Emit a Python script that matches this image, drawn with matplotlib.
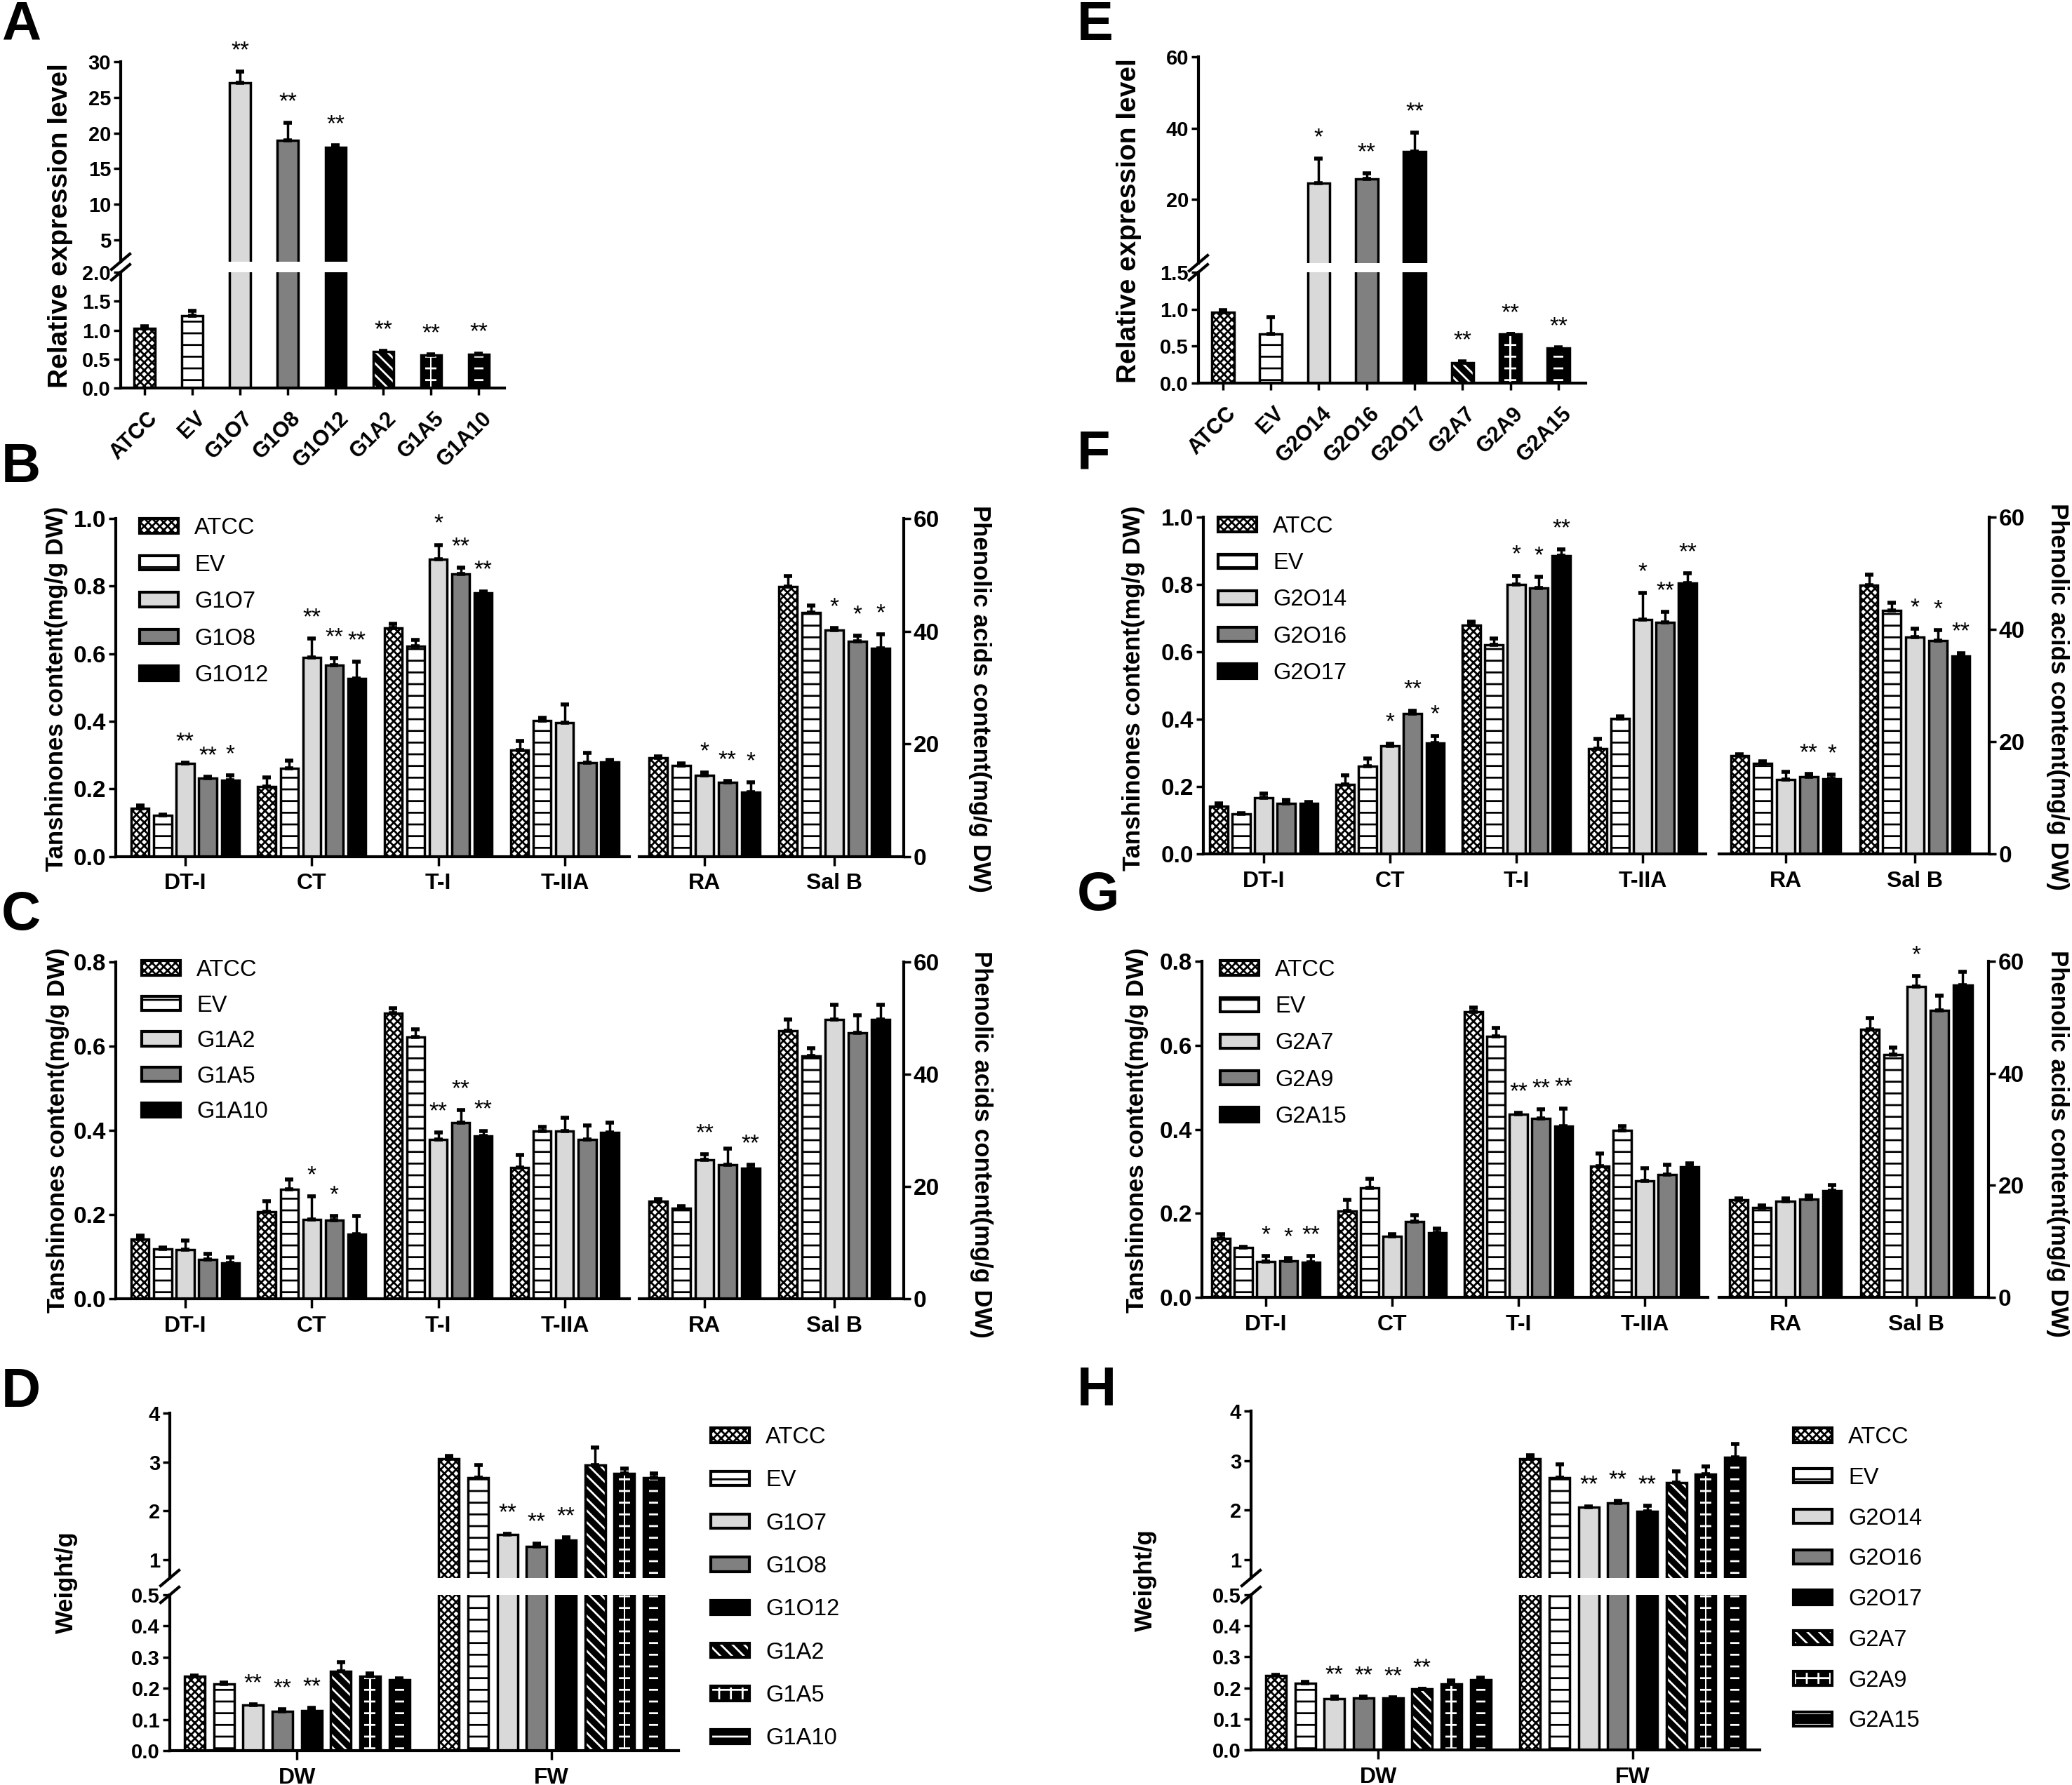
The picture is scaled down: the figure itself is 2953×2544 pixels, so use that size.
import numpy as np
import matplotlib
matplotlib.use('Agg')
import matplotlib.pyplot as plt
from matplotlib.patches import Patch
from matplotlib.lines import Line2D
from matplotlib.ticker import FormatStrFormatter
from matplotlib.transforms import ScaledTranslation

plt.rcParams['font.family'] = ['Liberation Sans', 'DejaVu Sans']
plt.rcParams['font.weight'] = 'bold'
plt.rcParams['hatch.linewidth'] = 2.0
plt.rcParams['axes.linewidth'] = 3.0

# ---------------- data ----------------
lines_1 = ['ATCC', 'EV', 'G1O7', 'G1O8', 'G1O12', 'G1A2', 'G1A5', 'G1A10']
lines_2 = ['ATCC', 'EV', 'G2O14', 'G2O16', 'G2O17', 'G2A7', 'G2A9', 'G2A15']
tanshinones = ['DT-I', 'CT', 'T-I', 'T-IIA']
phenolics = ['RA', 'Sal B']
weights = ['DW', 'FW']

# A / E: relative expression
expr_A = [1.03, 1.25, 27.0, 19.0, 18.0, 0.635, 0.565, 0.585]
expr_A_err = [0.04, 0.08, 1.6, 2.4, 0.25, 0.005, 0.02, 0.015]
expr_A_sig = ['', '', '**', '**', '**', '**', '**', '**']
expr_E = [0.96, 0.66, 24.6, 25.7, 33.4, 0.28, 0.66, 0.47]
expr_E_err = [0.03, 0.23, 6.9, 1.6, 5.3, 0.01, 0.005, 0.01]
expr_E_sig = ['', '', '*', '**', '**', '**', '**', '**']

# B: overexpression lines (rows: ATCC, EV, G1O7, G1O8, G1O12)
names_B = ['ATCC', 'EV', 'G1O7', 'G1O8', 'G1O12']
tan_B = [[0.142, 0.207, 0.677, 0.314], [0.121, 0.261, 0.623, 0.401],
         [0.275, 0.589, 0.879, 0.395], [0.232, 0.566, 0.836, 0.278],
         [0.225, 0.526, 0.779, 0.279]]
tan_B_err = [[0.009, 0.027, 0.012, 0.027], [0.002, 0.023, 0.018, 0.009],
             [0.002, 0.056, 0.043, 0.055], [0.004, 0.021, 0.018, 0.028],
             [0.014, 0.050, 0.006, 0.007]]
tan_B_sig = [['', '', '', ''], ['', '', '', ''], ['**', '**', '*', ''],
             ['**', '**', '**', ''], ['*', '**', '**', '']]
phe_B = [[17.5, 47.9], [16.1, 43.3], [14.4, 40.2], [13.2, 38.2], [11.4, 36.9]]
phe_B_err = [[0.3, 1.9], [0.4, 1.3], [0.5, 0.4], [0.2, 1.0], [1.7, 2.5]]
phe_B_sig = [['', ''], ['', ''], ['*', '*'], ['**', '*'], ['*', '*']]

# C: antisense lines
names_C = ['ATCC', 'EV', 'G1A2', 'G1A5', 'G1A10']
tan_C = [[0.141, 0.206, 0.679, 0.312], [0.118, 0.260, 0.622, 0.399],
         [0.116, 0.189, 0.379, 0.399], [0.094, 0.186, 0.419, 0.379],
         [0.085, 0.154, 0.386, 0.395]]
tan_C_err = [[0.009, 0.025, 0.011, 0.030], [0.003, 0.023, 0.018, 0.010],
             [0.023, 0.054, 0.016, 0.031], [0.012, 0.010, 0.029, 0.033],
             [0.014, 0.042, 0.013, 0.024]]
tan_C_sig = [['', '', '', ''], ['', '', '', ''], ['', '*', '**', ''],
             ['', '*', '**', ''], ['', '', '**', '']]
phe_C = [[17.4, 47.8], [16.1, 43.3], [24.8, 49.8], [23.9, 47.4], [23.2, 49.7]]
phe_C_err = [[0.3, 1.9], [0.4, 1.3], [0.9, 2.6], [2.8, 3.1], [0.7, 2.7]]
phe_C_sig = [['', ''], ['', ''], ['**', ''], ['', ''], ['**', '']]

# D: weights
dw_D = [0.238, 0.215, 0.146, 0.126, 0.128, 0.255, 0.238, 0.228]
dw_D_err = [0.003, 0.004, 0.003, 0.007, 0.010, 0.029, 0.009, 0.003]
fw_D = [3.06, 2.67, 1.51, 1.27, 1.40, 2.94, 2.76, 2.67]
fw_D_err = [0.06, 0.26, 0.02, 0.06, 0.05, 0.35, 0.11, 0.10]
dw_D_sig = ['', '', '**', '**', '**', '', '', '']
fw_D_sig = ['', '', '**', '**', '**', '', '', '']

# F
names_F = ['ATCC', 'EV', 'G2O14', 'G2O16', 'G2O17']
tan_F = [[0.141, 0.207, 0.679, 0.313], [0.119, 0.260, 0.620, 0.402],
         [0.167, 0.320, 0.800, 0.696], [0.149, 0.417, 0.789, 0.688],
         [0.151, 0.330, 0.886, 0.805]]
tan_F_err = [[0.009, 0.026, 0.011, 0.028], [0.002, 0.024, 0.020, 0.007],
             [0.012, 0.008, 0.026, 0.079], [0.011, 0.009, 0.034, 0.030],
             [0.003, 0.021, 0.018, 0.028]]
tan_F_sig = [['', '', '', ''], ['', '', '', ''], ['', '*', '*', '*'],
             ['', '**', '*', '**'], ['', '*', '**', '**']]
phe_F = [[17.5, 47.9], [16.1, 43.4], [13.3, 38.6], [13.8, 38.0], [13.4, 35.2]]
phe_F_err = [[0.2, 1.9], [0.4, 1.4], [1.3, 1.5], [0.4, 1.9], [0.7, 0.6]]
phe_F_sig = [['', ''], ['', ''], ['', '*'], ['**', '*'], ['*', '**']]

# G
names_G = ['ATCC', 'EV', 'G2A7', 'G2A9', 'G2A15']
tan_G = [[0.141, 0.205, 0.679, 0.313], [0.118, 0.261, 0.622, 0.398],
         [0.085, 0.146, 0.436, 0.277], [0.087, 0.180, 0.426, 0.293],
         [0.083, 0.153, 0.407, 0.310]]
tan_G_err = [[0.010, 0.027, 0.011, 0.029], [0.003, 0.021, 0.019, 0.010],
             [0.014, 0.004, 0.003, 0.031], [0.007, 0.015, 0.021, 0.023],
             [0.016, 0.010, 0.043, 0.009]]
tan_G_sig = [['', '', '', ''], ['', '', '', ''], ['*', '', '**', ''],
             ['*', '', '**', ''], ['**', '', '**', '']]
phe_G = [[17.4, 47.9], [16.0, 43.3], [17.2, 55.5], [17.5, 51.2], [19.0, 55.8]]
phe_G_err = [[0.3, 1.9], [0.4, 1.3], [0.4, 1.9], [0.7, 2.7], [1.1, 2.3]]
phe_G_sig = [['', ''], ['', ''], ['', '*'], ['', ''], ['', '']]

# H
dw_H = [0.239, 0.216, 0.166, 0.167, 0.167, 0.196, 0.213, 0.226]
dw_H_err = [0.003, 0.004, 0.007, 0.004, 0.003, 0.001, 0.011, 0.007]
fw_H = [3.04, 2.66, 2.06, 2.15, 1.98, 2.56, 2.73, 3.07]
fw_H_err = [0.07, 0.27, 0.02, 0.04, 0.11, 0.22, 0.15, 0.26]
dw_H_sig = ['', '', '**', '**', '**', '**', '', '']
fw_H_sig = ['', '', '**', '**', '**', '', '', '']

# ---------------- drawing helpers ----------------
W, H = 2953, 2544
fig = plt.figure(figsize=(W / 100, H / 100), dpi=100)

STYLES = ['check', 'ladder', 'light', 'mid', 'black', 'diag', 'cross', 'dash']
FILL = {'light': '#d9d9d9', 'mid': '#808080', 'black': 'black'}
LEG_FS = 23.5


def fig_xy(x, y):
    return x / W, 1 - y / H


def px_axes(x0, y0, x1, y1):
    return fig.add_axes([x0 / W, 1 - y1 / H, (x1 - x0) / W, (y1 - y0) / H])


def draw_bars(ax, xs, hs, w, style):
    if style == 'check':
        ax.bar(xs, hs, w, color='white', edgecolor='black', hatch='xxx', lw=0)
    elif style == 'ladder':
        ax.bar(xs, hs, w, color='white', edgecolor='black', hatch='-', lw=0)
    elif style in FILL:
        ax.bar(xs, hs, w, color=FILL[style], lw=0)
    else:
        ax.bar(xs, hs, w, color='black', lw=0)
        if style == 'diag':
            ax.bar(xs, hs, w, color='none', edgecolor='white', hatch='\\\\', lw=0)
        elif style == 'cross':
            ax.bar(xs, hs, w * 0.55, color='none', edgecolor='white', hatch='-', lw=0)
            ax.bar(xs, hs, w * 0.08, color='white', lw=0)
        elif style == 'dash':
            ax.bar(xs, hs, w * 0.45, color='none', edgecolor='white', hatch='-', lw=0)
    ax.bar(xs, hs, w, color='none', edgecolor='black', lw=2.5)


def draw_err(ax, xs, hs, errs):
    ax.errorbar(xs, hs, yerr=[np.zeros(len(errs)), errs], fmt='none',
                ecolor='black', elinewidth=2.5, capsize=4, capthick=4)


def stars(ax, xs, tops, marks):
    for x, t, m in zip(xs, tops, marks):
        if m:
            ax.annotate(m, (x, t), xytext=(0, 10), textcoords='offset points',
                        ha='center', va='bottom', fontsize=24, fontweight='normal',
                        annotation_clip=False)


def handle(style):
    outline = Patch(facecolor='none', edgecolor='black', lw=3)
    if style == 'check':
        base = Patch(facecolor='white', edgecolor='black', hatch='xxx', lw=0)
    elif style == 'ladder':
        base = Patch(facecolor='white', edgecolor='black', hatch='-', lw=0)
    elif style in FILL:
        base = Patch(facecolor=FILL[style], lw=0)
    else:
        h = {'diag': '\\\\', 'cross': '+', 'dash': '-'}[style]
        base = Patch(facecolor='black', edgecolor='white', hatch=h, lw=0)
    return (base, outline)


def add_legend(ax, names, styles, x, y, spacing):
    fs_px = LEG_FS * 100 / 72
    ax.legend([handle(s) for s in styles], names, loc='upper left',
              bbox_to_anchor=fig_xy(x, y), bbox_transform=fig.transFigure,
              frameon=False, prop={'size': LEG_FS, 'weight': 'normal'},
              handlelength=55 / fs_px, handleheight=19 / fs_px,
              handletextpad=23 / fs_px, labelspacing=spacing,
              borderpad=0, borderaxespad=0)


def style_ax(ax, spines, fs):
    for side in ['top', 'bottom', 'left', 'right']:
        ax.spines[side].set_visible(side in spines)
    ax.tick_params(length=7, width=2.5, labelsize=fs, pad=3)


def break_mark(x, y):
    fx0, fy0 = fig_xy(x - 13, y + 11)
    fx1, fy1 = fig_xy(x + 13, y - 11)
    fig.add_artist(Line2D([fx0, fx1], [fy0, fy1], color='black', lw=3))


def ylabel(x, y, text, rot=90, fs=25):
    fx, fy = fig_xy(x, y)
    fig.text(fx, fy, text, rotation=rot, ha='center', va='center', fontsize=fs)


def panel_letter(x, y, s):
    fx, fy = fig_xy(x, y)
    fig.text(fx, fy, s, ha='left', va='top', fontsize=56)


def broken_panel(x0, x1, ya, yb, yc, yd, lim_up, lim_lo, ticks_up, ticks_lo, fmt_lo,
                 xlim, pos, vals, errs, sigs, width, xticks, xlabels, rot, fs):
    axu = px_axes(x0, ya, x1, yb)
    axl = px_axes(x0, yc, x1, yd)
    for i in range(len(vals)):
        xs = np.asarray(pos[i], float)
        hs = np.asarray(vals[i], float)
        es = np.asarray(errs[i], float)
        for ax in (axu, axl):
            draw_bars(ax, xs, hs, width, STYLES[i])
            draw_err(ax, xs, hs, es)
        for x, t, m in zip(xs, hs + es, sigs[i]):
            stars(axu if t > lim_lo[1] else axl, [x], [t], [m])
    for ax in (axu, axl):
        ax.set_xlim(*xlim)
    axu.set_ylim(*lim_up)
    axl.set_ylim(*lim_lo)
    style_ax(axu, ['left'], fs)
    style_ax(axl, ['left', 'bottom'], fs)
    axu.set_xticks([])
    axu.set_yticks(ticks_up)
    axu.yaxis.set_major_formatter(FormatStrFormatter('%d'))
    axl.set_yticks(ticks_lo)
    axl.yaxis.set_major_formatter(FormatStrFormatter(fmt_lo))
    axl.set_xticks(xticks)
    if rot:
        axl.set_xticklabels(xlabels, rotation=45, ha='right', va='center',
                            rotation_mode='anchor', fontsize=22)
        axl.tick_params(axis='x', length=7, pad=21)
        shift = ScaledTranslation(14 / 100, 0, fig.dpi_scale_trans)
        for lbl in axl.get_xticklabels():
            lbl.set_transform(lbl.get_transform() + shift)
    else:
        axl.set_xticklabels(xlabels, fontsize=23)
        axl.tick_params(axis='x', length=9, pad=8)
    break_mark(x0, yb)
    break_mark(x0, yc)
    return axl


def content_panel(boxL, boxR, xlimL, xlimR, tan_max, names, tan, tan_err, tan_sig,
                  phe, phe_err, phe_sig, leg_x, leg_y, spacing):
    axL = px_axes(*boxL)
    axR = px_axes(*boxR)
    n = len(names)
    for i in range(n):
        off = (i - (n - 1) / 2) * 0.178
        xs = np.arange(len(tanshinones)) + off
        draw_bars(axL, xs, tan[i], 0.14, STYLES[i])
        draw_err(axL, xs, tan[i], tan_err[i])
        stars(axL, xs, np.add(tan[i], tan_err[i]), tan_sig[i])
        xs = np.arange(len(phenolics)) + off
        draw_bars(axR, xs, phe[i], 0.14, STYLES[i])
        draw_err(axR, xs, phe[i], phe_err[i])
        stars(axR, xs, np.add(phe[i], phe_err[i]), phe_sig[i])
    axL.set_xlim(*xlimL)
    axR.set_xlim(*xlimR)
    axL.set_ylim(0, tan_max)
    axR.set_ylim(0, 60)
    style_ax(axL, ['left', 'bottom'], 24)
    style_ax(axR, ['right', 'bottom'], 24)
    axL.set_yticks(np.arange(0, tan_max + 0.01, 0.2))
    axL.yaxis.set_major_formatter(FormatStrFormatter('%.1f'))
    axR.yaxis.tick_right()
    axR.set_yticks([0, 20, 40, 60])
    axL.set_xticks(range(len(tanshinones)))
    axL.set_xticklabels(tanshinones, fontsize=23)
    axR.set_xticks(range(len(phenolics)))
    axR.set_xticklabels(phenolics, fontsize=23)
    for ax in (axL, axR):
        ax.tick_params(axis='x', length=9, pad=8)
    add_legend(axL, names, STYLES[:n], leg_x, leg_y, spacing)


# ---------------- panels ----------------
# A
broken_panel(172, 719, 88, 373, 388, 553, (1.95, 30), (0, 2.0),
             [5, 10, 15, 20, 25, 30], [0, 0.5, 1.0, 1.5, 2.0], '%.1f',
             (-0.5, 7.54), [[i] for i in range(8)], [[v] for v in expr_A],
             [[e] for e in expr_A_err], [[s] for s in expr_A_sig], 0.43,
             range(8), lines_1, True, 21)
ylabel(86, 322, 'Relative expression level', fs=28)

# E
broken_panel(1708, 2260, 81, 375, 388, 546, (2.1, 60), (0, 1.5),
             [20, 40, 60], [0, 0.5, 1.0, 1.5], '%.1f',
             (-0.51, 7.57), [[i] for i in range(8)], [[v] for v in expr_E],
             [[e] for e in expr_E_err], [[s] for s in expr_E_sig], 0.46,
             range(8), lines_2, True, 21)
ylabel(1609, 315, 'Relative expression level', fs=28)

# B
content_panel((165, 739, 897, 1220.5), (911, 739, 1288, 1220.5), (-0.549, 3.511),
              (-0.503, 1.535), 1.0, names_B, tan_B, tan_B_err, tan_B_sig,
              phe_B, phe_B_err, phe_B_sig, 199, 737, 0.66)
ylabel(81, 982, 'Tanshinones content(mg/g DW)')
ylabel(1397, 996, 'Phenolic acids content(mg/g DW)', rot=270)

# C
content_panel((165, 1371, 897, 1851), (911, 1371, 1288, 1851), (-0.549, 3.511),
              (-0.503, 1.535), 0.8, names_C, tan_C, tan_C_err, tan_C_sig,
              phe_C, phe_C_err, phe_C_sig, 202, 1367, 0.6)
ylabel(83, 1611, 'Tanshinones content(mg/g DW)')
ylabel(1399, 1631, 'Phenolic acids content(mg/g DW)', rot=270)

# F
content_panel((1715, 737, 2431, 1217), (2450, 737, 2834.5, 1217), (-0.478, 3.5),
              (-0.516, 1.573), 1.0, names_F, tan_F, tan_F_err, tan_F_sig,
              phe_F, phe_F_err, phe_F_sig, 1736, 735, 0.65)
ylabel(1616, 981, 'Tanshinones content(mg/g DW)')
ylabel(2932, 993, 'Phenolic acids content(mg/g DW)', rot=270)

# G
content_panel((1713, 1370, 2434, 1849), (2450, 1370, 2834, 1849), (-0.506, 3.5),
              (-0.507, 1.552), 0.8, names_G, tan_G, tan_G_err, tan_G_sig,
              phe_G, phe_G_err, phe_G_sig, 1739, 1367, 0.65)
ylabel(1620, 1611, 'Tanshinones content(mg/g DW)')
ylabel(2932, 1630, 'Phenolic acids content(mg/g DW)', rot=270)

# D
offs = [(i - 3.5) * 0.115 for i in range(8)]
axD = broken_panel(242, 967, 2014, 2249, 2273, 2495, (0.62, 4), (0, 0.5),
                   [1, 2, 3, 4], [0, 0.1, 0.2, 0.3, 0.4, 0.5], '%.1f', (-0.5, 1.5),
                   [[0 + o, 1 + o] for o in offs],
                   [[d, f] for d, f in zip(dw_D, fw_D)],
                   [[d, f] for d, f in zip(dw_D_err, fw_D_err)],
                   [[d, f] for d, f in zip(dw_D_sig, fw_D_sig)], 0.08,
                   [0, 1], weights, False, 21)
add_legend(axD, lines_1, STYLES, 1013, 2033, 0.93)
ylabel(94, 2255, 'Weight/g')

# H
axH = broken_panel(1783, 2508, 2011, 2249, 2273, 2494, (0.63, 4), (0, 0.5),
                   [1, 2, 3, 4], [0, 0.1, 0.2, 0.3, 0.4, 0.5], '%.1f', (-0.5, 1.5),
                   [[0 + o, 1 + o] for o in offs],
                   [[d, f] for d, f in zip(dw_H, fw_H)],
                   [[d, f] for d, f in zip(dw_H_err, fw_H_err)],
                   [[d, f] for d, f in zip(dw_H_sig, fw_H_sig)], 0.08,
                   [0, 1], weights, False, 21)
add_legend(axH, lines_2, STYLES, 2556, 2033, 0.82)
ylabel(1632, 2252, 'Weight/g')

for s, x, y in [('A', 2, 0), ('B', 2, 630), ('C', 2, 1268), ('D', 2, 1948),
                ('E', 1535, 0), ('F', 1535, 612), ('G', 1535, 1240), ('H', 1535, 1946)]:
    panel_letter(x, y, s)

fig.savefig('out.png', dpi=100)
